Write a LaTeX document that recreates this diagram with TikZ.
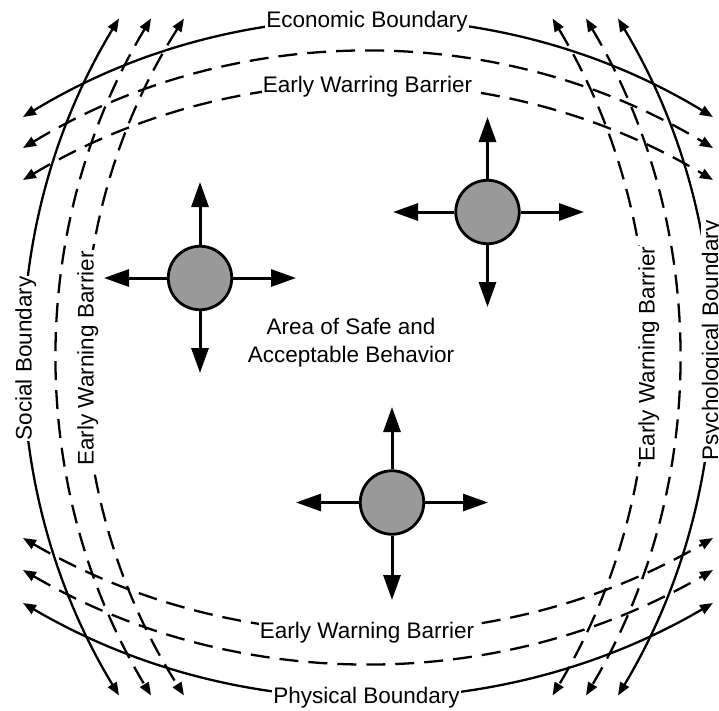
\documentclass[tikz,border=0pt]{standalone}
\usepackage{fontspec}
\setmainfont{Liberation Sans}
\usetikzlibrary{arrows.meta}
\definecolor{discgray}{RGB}{153,153,153}

% Circular boundary arcs; every arc is given by its tip position and its sagitta.
% Horizontal arcs run from x=23 to x=713 (half chord 345),
% vertical arcs run from y=18.5 to y=695.5 (half chord 338.5).
\newcommand\arcTop[3]{%
  \pgfmathsetmacro\arcR{100*(3.45*3.45+(#3/100)*(#3/100))/(2*#3/100)}%
  \pgfmathsetmacro\arcA{atan(345/(\arcR-#3))}%
  \draw[#1] (23,#2) arc[start angle={270-\arcA}, delta angle={2*\arcA}, radius=\arcR pt];}
\newcommand\arcBot[3]{%
  \pgfmathsetmacro\arcR{100*(3.45*3.45+(#3/100)*(#3/100))/(2*#3/100)}%
  \pgfmathsetmacro\arcA{atan(345/(\arcR-#3))}%
  \draw[#1] (23,#2) arc[start angle={90+\arcA}, delta angle={-2*\arcA}, radius=\arcR pt];}
\newcommand\arcLeft[3]{%
  \pgfmathsetmacro\arcR{100*(3.385*3.385+(#3/100)*(#3/100))/(2*#3/100)}%
  \pgfmathsetmacro\arcA{atan(338.5/(\arcR-#3))}%
  \draw[#1] (#2,18.5) arc[start angle={180+\arcA}, delta angle={-2*\arcA}, radius=\arcR pt];}
\newcommand\arcRight[3]{%
  \pgfmathsetmacro\arcR{100*(3.385*3.385+(#3/100)*(#3/100))/(2*#3/100)}%
  \pgfmathsetmacro\arcA{atan(338.5/(\arcR-#3))}%
  \draw[#1] (#2,18.5) arc[start angle={-\arcA}, delta angle={2*\arcA}, radius=\arcR pt];}

\tikzset{
  bnd/.style={line width=2.3pt, {Triangle[length=13pt,width=10pt]}-{Triangle[length=13pt,width=10pt]}},
  bnddash/.style={bnd, dash pattern=on 19pt off 10pt},
  lab/.style={fill=white, inner sep=1pt, anchor=base},
  disc/.style={circle, draw, line width=2.8pt, fill=discgray, minimum size=63.5pt, inner sep=0pt},
  push/.style={line width=3pt, -{Triangle[length=25pt,width=17pt]}},
}

\begin{document}
\begin{tikzpicture}[x=1pt, y=1pt, yscale=-1, font=\fontsize{22.5}{28}\selectfont]
\useasboundingbox (0,0) rectangle (719,710);

% top boundaries
\arcTop{bnd}{117}{96.6}
\arcTop{bnddash}{148}{96}
\arcTop{bnddash}{180}{95}
% bottom boundaries
\arcBot{bnddash}{538}{93}
\arcBot{bnddash}{570}{93}
\arcBot{bnd}{603}{93.5}
% left boundaries
\arcLeft{bnd}{119}{94.5}
\arcLeft{bnddash}{151}{94}
\arcLeft{bnddash}{184}{98.5}
% right boundaries
\arcRight{bnddash}{552.5}{94}
\arcRight{bnddash}{586}{93}
\arcRight{bnd}{618}{93.6}

% boundary labels
\node[lab] (econ) at (367,27) {Economic Boundary};
\node[lab] (ewtop) at (367.5,92) {Early Warring Barrier};
\node[lab] (ewbot) at (367,638) {Early Warning Barrier};
\node[lab] (phys) at (366.5,703) {Physical Boundary};
\node[lab, rotate=90] (social) at (31.5,358.5) {Social Boundary};
\node[lab, rotate=90] (ewleft) at (93.5,358.5) {Early Warning Barrier};
\node[lab, rotate=90] (ewright) at (654.5,354) {Early Warning Barrier};
\node[lab, rotate=90] (psych) at (718,340.5) {Psychological Boundary};

% central area
\node[align=center] (area) at (351,343) {Area of Safe and\\Acceptable Behavior};

% moving agents
\node[disc] (c1) at (200,278) {};
\node[disc] (c2) at (487.5,212) {};
\node[disc] (c3) at (392,502.5) {};

\coordinate (c1u) at (200,182);
\coordinate (c1d) at (200,373);
\coordinate (c1l) at (104,278);
\coordinate (c1r) at (296,278);
\coordinate (c2u) at (487.5,117);
\coordinate (c2d) at (487.5,307);
\coordinate (c2l) at (393,212);
\coordinate (c2r) at (584,212);
\coordinate (c3u) at (392,407);
\coordinate (c3d) at (392,600);
\coordinate (c3l) at (296,502.5);
\coordinate (c3r) at (488,502.5);

\foreach \c in {c1,c2,c3}
  \foreach \d in {u,d,l,r}
    \draw[push] (\c) -- (\c\d);
\end{tikzpicture}
\end{document}
